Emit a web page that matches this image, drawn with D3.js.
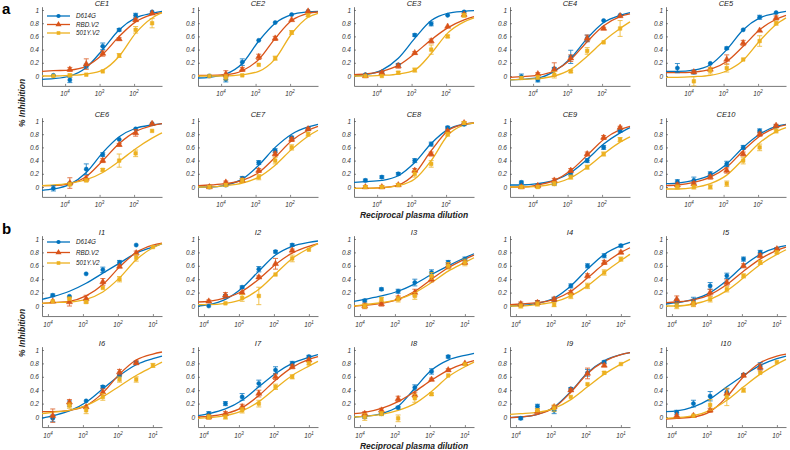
<!DOCTYPE html>
<html><head><meta charset="utf-8">
<script src="https://cdn.jsdelivr.net/npm/d3@7"></script>
<style>
body{margin:0;background:#fff}
text{font-family:"Liberation Sans",Arial,Helvetica,sans-serif}
</style>
</head><body>
<svg id="chart" width="790" height="450"></svg>
<script>
// ---------------- DATA ----------------
const panelTitles = ["CE1","CE2","CE3","CE4","CE5","CE6","CE7","CE8","CE9","CE10",
                     "I1","I2","I3","I4","I5","I6","I7","I8","I9","I10"];
const seriesNames = ["D614G","RBD.V2","501Y.V2"];
// dilutions (fraction of plasma) for panel a and panel b
const dilutionA = [1/21870,1/7290,1/2430,1/810,1/270,1/90,1/30];
const dilutionB = [1/7290,1/2430,1/810,1/270,1/90,1/30,1/10];
const axisDomainA = [Math.pow(10,-4.67), Math.pow(10,-1.19)];
const axisDomainB = [Math.pow(10,-4.17), Math.pow(10,-0.74)];
const xTicksA = [1e-4,1e-3,1e-2];
const xTicksB = [1e-4,1e-3,1e-2,1e-1];
const xTickExpA = ["4","3","2"];
const xTickExpB = ["4","3","2","1"];
const yTicks = [0,0.2,0.4,0.6,0.8,1];

// measured means (7 dilutions)
const d614gMean = [
 [0.01,-0.06,0.15,0.45,0.70,0.92,0.97],
 [0.00,-0.05,0.21,0.54,0.81,0.93,0.98],
 [0.02,0.05,0.17,0.62,0.79,0.92,0.97],
 [-0.01,-0.06,0.11,0.29,0.57,0.84,0.92],
 [0.12,0.06,0.19,0.42,0.70,0.89,0.96],
 [-0.02,0.05,0.27,0.49,0.72,0.88,0.96],
 [0.00,0.03,0.13,0.37,0.55,0.75,0.88],
 [0.10,0.15,0.20,0.40,0.65,0.90,0.95],
 [0.07,0.02,0.05,0.20,0.40,0.60,0.85],
 [0.08,0.10,0.20,0.35,0.60,0.85,0.92],
 [0.16,0.145,0.48,0.54,0.65,0.91,null],
 [0.00,0.15,0.28,0.55,0.81,0.91,null],
 [0.08,0.25,0.22,0.35,0.50,0.65,0.70],
 [0.02,0.05,0.10,0.30,0.60,0.75,0.90],
 [0.05,0.08,0.30,0.45,0.70,0.80,0.85],
 [-0.02,0.20,0.24,0.45,0.62,0.81,null],
 [0.05,0.20,0.30,0.50,0.70,0.80,0.90],
 [0.00,0.05,0.14,0.44,0.68,0.90,null],
 [-0.02,0.16,0.10,0.42,0.66,0.82,null],
 [0.07,0.20,0.31,0.37,0.63,0.76,null]
];
const d614gErr = [
 [0.01,0.04,0.03,0.05,0.02,0.03,0.01],
 [0.01,0.04,0.05,0.01,0.01,0.01,0.01],
 [0.01,0.02,0.02,0.02,0.03,0.01,0.01],
 [0.04,0.03,0.02,0.10,0.05,0.01,0.01],
 [0.07,0.03,0.01,0.02,0.01,0.03,0.01],
 [0.04,0.02,0.08,0.03,0.01,0.01,0.01],
 [0.02,0.02,0.03,0.03,0.03,0.02,0.02],
 [0.02,0.02,0.02,0.03,0.03,0.02,0.02],
 [0.02,0.02,0.02,0.03,0.03,0.03,0.02],
 [0.03,0.05,0.03,0.04,0.03,0.03,0.02],
 [0.02,0.01,0.01,0.04,0.03,0.01,0.01],
 [0.01,0.02,0.02,0.04,0.02,0.02,0.01],
 [0.02,0.02,0.03,0.05,0.04,0.03,0.03],
 [0.02,0.03,0.03,0.03,0.03,0.03,0.02],
 [0.05,0.05,0.05,0.04,0.03,0.03,0.02],
 [0.05,0.04,0.01,0.02,0.02,0.02,0.01],
 [0.03,0.03,0.05,0.05,0.05,0.03,0.02],
 [0.02,0.02,0.02,0.04,0.04,0.02,0.01],
 [0.02,0.03,0.05,0.02,0.05,0.02,0.01],
 [0.03,0.05,0.07,0.05,0.02,0.05,0.01]
];
const rbdMean = [
 [null,0.10,0.18,0.34,0.56,0.85,0.95],
 [null,0.03,0.10,0.29,0.57,0.85,0.98],
 [0.00,0.05,0.15,0.35,0.53,0.75,0.93],
 [null,0.03,0.10,0.27,0.57,0.72,0.91],
 [null,0.06,0.10,0.25,0.50,0.69,0.88],
 [null,0.06,0.13,0.40,0.64,0.82,0.96],
 [0.00,0.07,0.10,0.25,0.50,0.72,0.88],
 [0.00,0.00,0.03,0.25,0.50,0.85,0.97],
 [0.00,0.02,0.10,0.25,0.50,0.75,0.90],
 [0.03,0.05,0.15,0.25,0.50,0.80,0.93],
 [0.07,0.06,0.11,0.36,0.59,0.79,null],
 [0.07,0.16,0.20,0.43,0.63,0.83,null],
 [0.00,0.03,0.12,0.20,0.40,0.60,0.65],
 [0.03,0.05,0.10,0.20,0.45,0.65,0.80],
 [0.10,0.05,0.20,0.35,0.60,0.75,0.85],
 [0.02,0.22,0.15,0.37,0.67,0.81,null],
 [0.00,0.05,0.15,0.35,0.60,0.75,0.85],
 [0.05,0.10,0.27,0.33,0.56,0.70,0.80],
 [null,0.08,0.15,0.40,0.65,0.77,null],
 [0.02,0.02,0.10,0.35,0.62,0.74,null]
];
const rbdErr = [
 [0.01,0.03,0.08,0.04,0.02,0.02,0.01],
 [0.01,0.05,0.03,0.04,0.03,0.01,0.01],
 [0.01,0.02,0.03,0.02,0.03,0.01,0.02],
 [0.01,0.02,0.10,0.05,0.05,0.02,0.01],
 [0.01,0.02,0.02,0.07,0.04,0.01,0.03],
 [0.01,0.08,0.04,0.03,0.02,0.05,0.01],
 [0.02,0.02,0.03,0.03,0.03,0.03,0.02],
 [0.02,0.02,0.02,0.03,0.03,0.02,0.02],
 [0.02,0.02,0.03,0.03,0.03,0.03,0.02],
 [0.03,0.03,0.03,0.04,0.03,0.03,0.02],
 [0.01,0.06,0.05,0.05,0.02,0.03,0.01],
 [0.02,0.04,0.02,0.02,0.08,0.02,0.01],
 [0.04,0.03,0.03,0.05,0.04,0.04,0.03],
 [0.03,0.03,0.03,0.03,0.03,0.03,0.02],
 [0.05,0.05,0.05,0.04,0.03,0.03,0.02],
 [0.10,0.04,0.01,0.05,0.04,0.03,0.01],
 [0.03,0.03,0.04,0.05,0.04,0.03,0.02],
 [0.03,0.03,0.04,0.04,0.02,0.02,0.01],
 [0.01,0.02,0.02,0.02,0.08,0.02,0.01],
 [0.01,0.01,0.03,0.07,0.02,0.05,0.01]
];
const v501Mean = [
 [0.00,0.01,0.02,0.07,0.31,0.70,0.80],
 [0.00,-0.02,0.01,0.17,0.27,0.66,0.92],
 [0.00,0.00,0.05,0.09,0.40,0.60,0.92],
 [-0.03,-0.02,0.02,0.07,0.38,0.51,0.72],
 [null,-0.08,0.08,0.12,0.25,0.53,0.80],
 [null,0.04,0.10,0.26,0.40,0.51,0.85],
 [0.00,0.03,0.10,0.15,0.40,0.60,0.80],
 [0.00,0.00,0.03,0.20,0.35,0.80,0.97],
 [0.00,0.00,0.05,0.15,0.30,0.50,0.72],
 [0.00,0.00,0.00,0.05,0.40,0.60,0.85],
 [0.07,0.11,0.06,0.27,0.40,0.72,0.88],
 [null,0.04,0.12,0.15,0.47,0.71,0.84],
 [0.00,0.10,0.10,0.15,0.45,0.60,0.65],
 [0.00,0.03,0.02,0.15,0.30,0.50,0.70],
 [0.00,0.03,0.10,0.25,0.45,0.65,0.80],
 [null,0.17,0.10,0.30,0.56,0.56,0.77],
 [0.00,0.00,0.10,0.20,0.45,0.60,0.80],
 [0.00,0.05,-0.02,0.28,0.34,0.62,0.79],
 [null,0.10,0.13,0.30,0.49,0.66,0.79],
 [null,0.02,0.18,0.30,0.40,0.66,0.82]
];
const v501Err = [
 [0.01,0.02,0.01,0.01,0.03,0.05,0.07],
 [0.01,0.04,0.01,0.01,0.03,0.03,0.02],
 [0.01,0.01,0.02,0.03,0.07,0.02,0.03],
 [0.02,0.03,0.05,0.02,0.05,0.01,0.12],
 [0.01,0.07,0.05,0.06,0.01,0.08,0.03],
 [0.01,0.02,0.02,0.02,0.10,0.05,0.01],
 [0.02,0.02,0.03,0.04,0.05,0.04,0.03],
 [0.02,0.02,0.02,0.05,0.05,0.03,0.02],
 [0.02,0.02,0.03,0.03,0.03,0.03,0.03],
 [0.03,0.03,0.03,0.04,0.05,0.05,0.03],
 [0.01,0.02,0.02,0.01,0.04,0.05,0.01],
 [0.01,0.01,0.05,0.13,0.01,0.05,0.01],
 [0.03,0.03,0.04,0.05,0.05,0.05,0.05],
 [0.03,0.03,0.03,0.04,0.04,0.04,0.03],
 [0.04,0.04,0.04,0.04,0.03,0.03,0.02],
 [0.01,0.04,0.05,0.05,0.04,0.04,0.03],
 [0.03,0.03,0.04,0.05,0.04,0.03,0.02],
 [0.05,0.03,0.05,0.06,0.02,0.01,0.01],
 [0.01,0.02,0.05,0.01,0.01,0.02,0.01],
 [0.01,0.01,0.08,0.13,0.03,0.01,0.01]
];

// fitted dose-response curves, read at: left axis end, 7 dilutions, right axis end
const d614gFit = [
 [-0.05,-0.04,0.00,0.13,0.40,0.70,0.88,0.95,0.98],
 [-0.03,-0.02,0.03,0.19,0.53,0.80,0.93,0.97,0.98],
 [0.00,0.02,0.09,0.27,0.57,0.84,0.95,0.98,0.99],
 [-0.06,-0.05,-0.03,0.07,0.27,0.57,0.81,0.92,0.96],
 [0.07,0.07,0.09,0.17,0.40,0.70,0.88,0.95,0.98],
 [-0.05,-0.03,0.04,0.22,0.52,0.76,0.89,0.94,0.96],
 [0.00,0.00,0.03,0.12,0.33,0.60,0.80,0.91,0.95],
 [0.07,0.08,0.10,0.17,0.37,0.66,0.87,0.95,0.97],
 [0.03,0.03,0.05,0.10,0.22,0.42,0.65,0.82,0.90],
 [0.05,0.06,0.10,0.18,0.35,0.60,0.80,0.92,0.95],
 [0.10,0.14,0.22,0.34,0.49,0.64,0.79,0.88,0.93],
 [0.00,0.02,0.10,0.27,0.52,0.76,0.89,0.95,0.97],
 [0.07,0.10,0.15,0.22,0.33,0.47,0.60,0.72,0.78],
 [0.00,0.01,0.04,0.12,0.30,0.55,0.77,0.90,0.95],
 [0.03,0.05,0.10,0.20,0.38,0.60,0.77,0.87,0.90],
 [-0.02,0.02,0.09,0.22,0.42,0.62,0.78,0.87,0.91],
 [0.02,0.05,0.12,0.25,0.45,0.65,0.80,0.89,0.93],
 [0.00,0.01,0.05,0.16,0.43,0.70,0.85,0.92,0.95],
 [-0.01,0.00,0.04,0.15,0.38,0.66,0.84,0.93,0.96],
 [0.08,0.09,0.15,0.27,0.45,0.62,0.77,0.87,0.91]
];
const rbdFit = [
 [0.07,0.08,0.09,0.15,0.33,0.60,0.82,0.93,0.96],
 [0.01,0.01,0.02,0.08,0.25,0.57,0.84,0.95,0.97],
 [0.02,0.03,0.07,0.16,0.34,0.55,0.73,0.85,0.90],
 [-0.02,-0.01,0.01,0.08,0.25,0.52,0.76,0.90,0.94],
 [0.05,0.05,0.06,0.10,0.22,0.45,0.70,0.86,0.92],
 [0.02,0.02,0.05,0.16,0.40,0.66,0.84,0.93,0.96],
 [0.02,0.03,0.05,0.10,0.22,0.45,0.70,0.86,0.92],
 [-0.02,-0.02,-0.01,0.03,0.20,0.55,0.85,0.95,0.97],
 [0.00,0.00,0.03,0.10,0.25,0.48,0.72,0.87,0.92],
 [0.02,0.03,0.07,0.15,0.30,0.55,0.77,0.90,0.94],
 [0.04,0.05,0.07,0.15,0.32,0.58,0.80,0.91,0.94],
 [0.06,0.07,0.12,0.22,0.40,0.62,0.79,0.89,0.93],
 [0.00,0.01,0.04,0.10,0.22,0.40,0.57,0.70,0.76],
 [0.02,0.03,0.05,0.10,0.22,0.42,0.63,0.80,0.87],
 [0.05,0.06,0.09,0.17,0.32,0.52,0.70,0.83,0.88],
 [0.08,0.08,0.10,0.17,0.36,0.64,0.85,0.94,0.97],
 [0.00,0.01,0.05,0.14,0.32,0.55,0.74,0.86,0.90],
 [0.05,0.07,0.13,0.23,0.38,0.55,0.70,0.80,0.84],
 [-0.01,0.00,0.04,0.14,0.37,0.65,0.83,0.93,0.96],
 [-0.03,-0.02,0.00,0.08,0.30,0.60,0.81,0.91,0.94]
];
const v501Fit = [
 [0.00,0.00,0.01,0.03,0.09,0.30,0.65,0.88,0.96],
 [0.00,0.00,0.00,0.02,0.07,0.26,0.64,0.89,0.95],
 [0.00,0.00,0.01,0.03,0.09,0.34,0.65,0.82,0.88],
 [-0.06,-0.05,-0.04,0.00,0.10,0.30,0.53,0.72,0.82],
 [-0.02,-0.02,-0.01,0.01,0.08,0.24,0.53,0.78,0.88],
 [0.02,0.03,0.06,0.11,0.22,0.39,0.58,0.74,0.82],
 [0.00,0.00,0.02,0.06,0.15,0.33,0.57,0.77,0.86],
 [-0.02,-0.02,-0.01,0.02,0.12,0.40,0.78,0.94,0.97],
 [0.00,0.00,0.01,0.05,0.14,0.30,0.50,0.68,0.76],
 [-0.03,-0.03,-0.01,0.05,0.18,0.42,0.67,0.84,0.90],
 [0.04,0.05,0.06,0.10,0.21,0.42,0.69,0.87,0.93],
 [0.02,0.02,0.04,0.10,0.25,0.48,0.71,0.86,0.93],
 [0.00,0.02,0.05,0.10,0.20,0.35,0.52,0.65,0.72],
 [0.00,0.00,0.02,0.06,0.15,0.30,0.50,0.68,0.77],
 [0.00,0.00,0.03,0.10,0.23,0.42,0.62,0.77,0.84],
 [0.05,0.07,0.10,0.17,0.30,0.46,0.62,0.75,0.82],
 [-0.02,-0.01,0.02,0.09,0.23,0.43,0.62,0.76,0.83],
 [0.00,0.01,0.04,0.10,0.20,0.38,0.60,0.75,0.82],
 [0.04,0.05,0.07,0.13,0.26,0.45,0.64,0.79,0.86],
 [-0.02,-0.01,0.02,0.10,0.25,0.45,0.64,0.79,0.86]
];

// ---------------- STYLE / LAYOUT ----------------
const colors = ["#0072BD","#D95319","#EDB120"];
const symbols = [d3.symbolCircle, d3.symbolTriangle, d3.symbolSquare];
const symSize = [14, 16, 13];
const rowTop = [10, 121, 239, 350];
const colLeft = [42, 198, 354, 510, 666];
const plotW = 120;
const means = [d614gMean, rbdMean, v501Mean];
const errs = [d614gErr, rbdErr, v501Err];
const fits = [d614gFit, rbdFit, v501Fit];

const svg = d3.select("#chart");

// panel letters
svg.append("text").attr("x",2).attr("y",14).attr("font-size",15).attr("font-weight","bold").text("a");
svg.append("text").attr("x",2).attr("y",234).attr("font-size",15).attr("font-weight","bold").text("b");

// axis titles
[103,333].forEach(cy=>{
  svg.append("text").attr("transform",`translate(25,${cy}) rotate(-90)`)
    .attr("text-anchor","middle").attr("font-size",8.5).attr("font-weight","bold")
    .attr("font-style","italic").attr("fill","#222").text("% Inhibition");
});
[218,448.5].forEach(y=>{
  svg.append("text").attr("x",414).attr("y",y).attr("text-anchor","middle")
    .attr("font-size",8.5).attr("font-weight","bold").attr("font-style","italic")
    .attr("fill","#222").text("Reciprocal plasma dilution");
});

panelTitles.forEach((title,p)=>{
  const sec = p < 10 ? 0 : 1;
  const r = Math.floor((p % 10) / 5) + sec * 2;
  const c = p % 5;
  const x0 = colLeft[c];
  const ppu = sec ? 67 : 66;
  const top = rowTop[r];
  const xs = d3.scaleLog().domain(sec ? axisDomainB : axisDomainA).range([x0, x0 + plotW]);
  const ys = d3.scaleLinear().domain([-0.15, 1.05]).range([top + ppu*1.15, top - ppu*0.05]);
  const dil = sec ? dilutionB : dilutionA;
  const fitX = [xs.domain()[0], ...dil, xs.domain()[1]];
  const g = svg.append("g");

  // axes
  const ya = d3.axisLeft(ys).tickValues(yTicks).tickSizeInner(-2).tickSizeOuter(0).tickPadding(3)
     .tickFormat(d => d === 0 ? "0" : d === 1 ? "1" : d3.format(".1f")(d));
  const yg = g.append("g").attr("transform",`translate(${x0},0)`).call(ya);
  const xTicks = sec ? xTicksB : xTicksA;
  const xExp = sec ? xTickExpB : xTickExpA;
  const xa = d3.axisBottom(xs).tickValues(xTicks).tickSizeInner(-2).tickSizeOuter(0).tickFormat("");
  const xg = g.append("g").attr("transform",`translate(0,${ys(-0.15)})`).call(xa);
  [yg, xg].forEach(a=>{
    a.selectAll("path.domain").attr("stroke","#555").attr("stroke-width",0.8);
    a.selectAll(".tick line").attr("stroke","#555").attr("stroke-width",0.7);
    a.selectAll(".tick text").attr("font-size",6.5).attr("font-style","italic")
      .attr("fill","#333").attr("font-family","'Liberation Sans',Arial,sans-serif");
  });
  xTicks.forEach((t,i)=>{
    const tx = g.append("text").attr("x", xs(t)).attr("y", ys(-0.15) + 10.5)
      .attr("text-anchor","middle").attr("font-size",6.3).attr("font-style","italic").attr("fill","#333");
    tx.append("tspan").text("10");
    tx.append("tspan").attr("font-size",4.5).attr("dy",-3).text(xExp[i]);
  });

  // title
  g.append("text").attr("x", x0 + plotW/2).attr("y", top - 4).attr("text-anchor","middle")
    .attr("font-size",7.5).attr("font-style","italic").attr("fill","#222").text(title);

  // curves
  const line = d3.line().x(d=>xs(d[0])).y(d=>ys(d[1])).curve(d3.curveMonotoneX);
  [0,1,2].forEach(s=>{
    const pts = fitX.map((x,i)=>[x, fits[s][p][i]]);
    g.append("path").attr("d", line(pts)).attr("fill","none")
      .attr("stroke", colors[s]).attr("stroke-width",1.3);
  });
  // error bars + markers
  [0,1,2].forEach(s=>{
    dil.forEach((x,i)=>{
      const m = means[s][p][i];
      if (m === null) return;
      const e = errs[s][p][i];
      const px = xs(x);
      const eg = g.append("g").attr("stroke", colors[s]).attr("stroke-width",0.9).attr("opacity",0.85);
      if (e > 0.012) {
        eg.append("line").attr("x1",px).attr("x2",px).attr("y1",ys(m-e)).attr("y2",ys(m+e));
        [m-e, m+e].forEach(v=>eg.append("line").attr("x1",px-2.5).attr("x2",px+2.5).attr("y1",ys(v)).attr("y2",ys(v)));
      }
      g.append("path").attr("d", d3.symbol().type(symbols[s]).size(symSize[s])())
        .attr("transform",`translate(${px},${ys(m)})`).attr("fill",colors[s]).attr("stroke",colors[s]).attr("stroke-width",0.5);
    });
  });

  // legend in first panel of each section
  if (p === 0 || p === 10) {
    const ly = sec ? [242, 252.5, 263] : [16, 24.5, 33];
    seriesNames.forEach((n,s)=>{
      g.append("line").attr("x1",47).attr("x2",70).attr("y1",ly[s]).attr("y2",ly[s])
        .attr("stroke",colors[s]).attr("stroke-width",1.3);
      g.append("path").attr("d", d3.symbol().type(symbols[s]).size(symSize[s])())
        .attr("transform",`translate(58.5,${ly[s]})`).attr("fill",colors[s]);
      g.append("text").attr("x",76).attr("y",ly[s]+2.3).attr("font-size",6.3)
        .attr("font-style","italic").attr("fill","#222").text(n);
    });
  }
});
</script>
</body></html>
